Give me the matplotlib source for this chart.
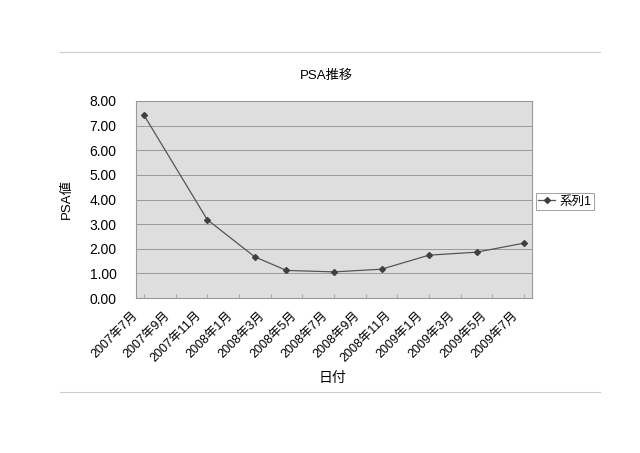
import matplotlib
matplotlib.use("Agg")
import matplotlib.pyplot as plt
from matplotlib.lines import Line2D
from matplotlib.transforms import ScaledTranslation

plt.rcParams['font.family'] = ['Liberation Sans', 'Noto Sans CJK JP', 'DejaVu Sans']

# months since 2007年7月 for each measurement, and the PSA values
months = [0, 4, 7, 9, 12, 15, 18, 21, 24]
psa = [7.43, 3.18, 1.67, 1.12, 1.06, 1.17, 1.74, 1.86, 2.23]
tick_months = [0, 2, 4, 6, 8, 10, 12, 14, 16, 18, 20, 22, 24]
tick_labels = ['2007年7月', '2007年9月', '2007年11月', '2008年1月', '2008年3月',
               '2008年5月', '2008年7月', '2008年9月', '2008年11月', '2009年1月',
               '2009年3月', '2009年5月', '2009年7月']

fig = plt.figure(figsize=(6.4, 4.53), dpi=100)
ax = fig.add_axes([136/640, 1 - 298/453, 396/640, 197/453])
ax.set_facecolor('#dedede')

ax.plot(months, psa, color='#555555', lw=0.9, marker='D', ms=3,
        mfc='#404040', mec='#404040', label='系列1')

ax.set_xlim(-0.5, 24.5)
ax.set_ylim(0, 8)
ax.set_yticks([0, 1, 2, 3, 4, 5, 6, 7, 8])
ax.set_yticklabels([f'{v:.2f}' for v in range(9)])
ax.yaxis.grid(True, color='#9a9a9a', lw=0.7)
ax.set_axisbelow(True)

ax.set_xticks(tick_months)
ax.set_xticklabels(tick_labels, rotation=45, ha='right', va='top',
                   rotation_mode='anchor')
ax.tick_params(axis='x', length=3, direction='in', color='#aaaaaa',
               labelsize=9, pad=4)
ax.tick_params(axis='y', length=0, labelsize=10, pad=14)
# shift the rotated labels like Excel places them
shift = ScaledTranslation(-12/100, -6/100, fig.dpi_scale_trans)
for lab in ax.get_xticklabels():
    lab.set_transform(lab.get_transform() + shift)

for s in ax.spines.values():
    s.set_color('#9a9a9a')
    s.set_linewidth(0.8)

ax.set_title('PSA推移', fontsize=9.5, pad=16, x=0.48)
ax.set_ylabel('PSA値', fontsize=9.5, labelpad=12)
ax.set_xlabel('日付', fontsize=10, va='top')
ax.xaxis.set_label_coords(0.495, -0.37)

leg = ax.legend(loc='center left', bbox_to_anchor=(1.01, 0.49), frameon=True,
                fancybox=False, edgecolor='#888888', fontsize=9,
                handlelength=1.3, borderpad=0.2, handletextpad=0.4,
                borderaxespad=0)
leg.get_frame().set_linewidth(0.7)

# faint chart-area border lines from the scan
fig.add_artist(Line2D([60/640, 600/640], [1 - 52/453, 1 - 52/453],
                      transform=fig.transFigure, color='#cccccc', lw=0.8))
fig.add_artist(Line2D([60/640, 600/640], [1 - 392/453, 1 - 392/453],
                      transform=fig.transFigure, color='#cccccc', lw=0.8))

fig.savefig('out.png', dpi=100, facecolor='white')
